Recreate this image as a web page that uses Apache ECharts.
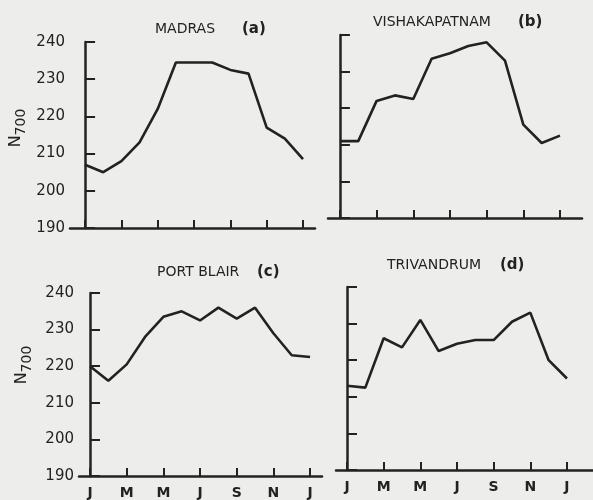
<!DOCTYPE html>
<html>
<head>
<meta charset="utf-8">
<script src="https://cdn.jsdelivr.net/npm/echarts@6/dist/echarts.min.js"></script>
<style>
  html, body { margin: 0; padding: 0; background: #ededeb; }
  #chart { width: 593px; height: 500px; }
</style>
</head>
<body>
<div id="chart"></div>
<script>
// Monthly mean N700 (refractivity at 700 mb), January to the following January
const monthIndex = [0, 1, 2, 3, 4, 5, 6, 7, 8, 9, 10, 11, 12];
const monthTicks = [0, 2, 4, 6, 8, 10, 12];
const monthTickLabels = ['J', 'M', 'M', 'J', 'S', 'N', 'J'];
const yTicks = [190, 200, 210, 220, 230, 240];

const madras        = [207, 205, 208, 213, 222, 234.5, 234.5, 234.5, 232.5, 231.5, 217, 214, 208.5];
const vishakapatnam = [211, 211, 222, 223.5, 222.5, 233.5, 235, 237, 238, 233, 215.5, 210.5, 212.5];
const portBlair     = [220, 216, 220.5, 228, 233.5, 235, 232.5, 236, 233, 236, 229, 223, 222.5];
const trivandrum    = [213, 212.5, 226, 223.5, 231, 222.5, 224.5, 225.5, 225.5, 230.5, 233, 220, 215];

const stations = [
  { name: 'MADRAS', tag: '(a)', values: madras },
  { name: 'VISHAKAPATNAM', tag: '(b)', values: vishakapatnam },
  { name: 'PORT BLAIR', tag: '(c)', values: portBlair },
  { name: 'TRIVANDRUM', tag: '(d)', values: trivandrum }
];

const ink = '#222222';
const font = 'DejaVu Sans, sans-serif';

// panel boxes: grid placement and x-axis extent in months
const panels = [
  { left: 70,  top: 42,  width: 245, height: 186, xmin: -0.83, xmax: 12.66, yLabels: true,  xLabels: false, title: [155, 29, 242] },
  { left: 328, top: 35,  width: 254, height: 183, xmin: -0.65, xmax: 13.2,  yLabels: false, xLabels: false, title: [373, 22, 518] },
  { left: 79,  top: 293, width: 243, height: 185, xmin: -0.6,  xmax: 12.65, yLabels: true,  xLabels: true,  title: [157, 272, 257] },
  { left: 336, top: 287, width: 257, height: 183, xmin: -0.6,  xmax: 13.42, yLabels: false, xLabels: true,  title: [387, 265, 500] }
];

const grid = [], xAxis = [], yAxis = [], series = [], graphic = [];

panels.forEach((p, i) => {
  grid.push({ left: p.left, top: p.top, width: p.width, height: p.height, containLabel: false });
  xAxis.push({
    type: 'value', gridIndex: i, min: p.xmin, max: p.xmax,
    axisLine: { show: true, onZero: false, lineStyle: { color: ink, width: 2.5 } },
    axisTick: { show: true, inside: true, length: 8, customValues: monthTicks, lineStyle: { color: ink, width: 2 } },
    axisLabel: {
      show: p.xLabels, customValues: monthTicks, margin: 10,
      formatter: v => monthTickLabels[monthTicks.indexOf(v)],
      color: ink, fontFamily: font, fontSize: 14, fontWeight: 'bold'
    },
    splitLine: { show: false }
  });
  yAxis.push({
    type: 'value', gridIndex: i, min: 190, max: 240, interval: 10,
    axisLine: { show: true, lineStyle: { color: ink, width: 2.5 } },
    axisTick: { show: true, inside: true, length: 10, lineStyle: { color: ink, width: 2 } },
    axisLabel: {
      show: p.yLabels, margin: 5, color: ink, fontFamily: font, fontSize: 15,
      formatter: v => yTicks.includes(v) ? String(v) : ''
    },
    splitLine: { show: false }
  });
  series.push({
    type: 'line', xAxisIndex: i, yAxisIndex: i,
    data: monthIndex.map((m, k) => [m, stations[i].values[k]]),
    symbol: 'none', smooth: false,
    lineStyle: { color: ink, width: 2.6 }
  });
  graphic.push({
    type: 'text', x: p.title[0], y: p.title[1],
    style: { text: stations[i].name, font: '14px ' + font, fill: ink, verticalAlign: 'middle' }
  });
  graphic.push({
    type: 'text', x: p.title[2], y: p.title[1],
    style: { text: stations[i].tag, font: 'bold 15px ' + font, fill: ink, verticalAlign: 'middle' }
  });
});

// vertical axis names with subscript
[[18, 128], [24, 365]].forEach(([x, y]) => {
  graphic.push({
    type: 'text', x: x, y: y, rotation: Math.PI / 2,
    style: {
      text: '{n|N}{s|700}', fill: ink, align: 'center', verticalAlign: 'middle',
      rich: {
        n: { fontFamily: font, fontSize: 16, fill: ink, verticalAlign: 'top' },
        s: { fontFamily: font, fontSize: 14, fill: ink, verticalAlign: 'bottom', padding: [6, 0, 0, 0] }
      }
    }
  });
});

const chart = echarts.init(document.getElementById('chart'), null, { renderer: 'canvas' });
chart.setOption({
  backgroundColor: '#ededeb',
  animation: false,
  grid, xAxis, yAxis, series, graphic
});
</script>
</body>
</html>
